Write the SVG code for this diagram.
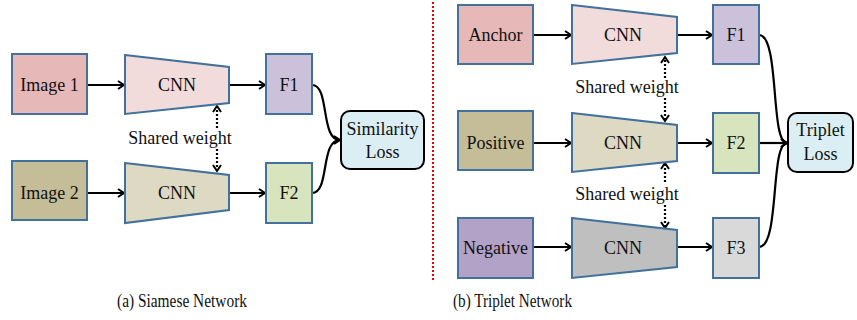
<svg xmlns="http://www.w3.org/2000/svg" width="857" height="320" viewBox="0 0 857 320">
<style>
.box{stroke:#41719C;stroke-width:2}
.t{font-family:"Liberation Serif","Times New Roman",serif;font-size:18px;fill:#111;text-anchor:middle}
.cap{font-family:"Liberation Serif","Times New Roman",serif;font-size:18.5px;fill:#111}
.c{fill:none;stroke:#000;stroke-width:2.2}
.d{fill:none;stroke:#000;stroke-width:2.2;stroke-dasharray:2 2}
</style>
<defs>
<marker id="ah" markerWidth="10" markerHeight="10" refX="8" refY="5" orient="auto" markerUnits="userSpaceOnUse">
<path d="M2,1 L8,5 L2,9" fill="none" stroke="#000" stroke-width="2"/>
</marker>
</defs>
<line x1="433" y1="2" x2="433" y2="282" stroke="#E00" stroke-width="2" stroke-dasharray="2 2"/>
<g id="connectors">
<line class="c" x1="87" y1="85" x2="124" y2="85" marker-end="url(#ah)"/>
<line class="c" x1="229" y1="85" x2="265" y2="85" marker-end="url(#ah)"/>
<line class="c" x1="87" y1="193" x2="124" y2="193" marker-end="url(#ah)"/>
<line class="c" x1="229" y1="193" x2="265" y2="193" marker-end="url(#ah)"/>
<path class="c" d="M312,85 C330,85 320,140 340,140" marker-end="url(#ah)"/>
<path class="c" d="M312,193 C330,193 320,140 340,140"/>
<line class="d" x1="217" y1="128" x2="217" y2="106" marker-end="url(#ah)"/>
<line class="d" x1="217" y1="149" x2="217" y2="171" marker-end="url(#ah)"/>
<line class="c" x1="533" y1="35" x2="571" y2="35" marker-end="url(#ah)"/>
<line class="c" x1="677" y1="35" x2="712" y2="35" marker-end="url(#ah)"/>
<line class="c" x1="533" y1="143" x2="571" y2="143" marker-end="url(#ah)"/>
<line class="c" x1="677" y1="143" x2="712" y2="143" marker-end="url(#ah)"/>
<line class="c" x1="533" y1="247" x2="571" y2="247" marker-end="url(#ah)"/>
<line class="c" x1="677" y1="247" x2="712" y2="247" marker-end="url(#ah)"/>
<path class="c" d="M759,35 C780,35 770,143 787,143" marker-end="url(#ah)"/>
<line class="c" x1="759" y1="143" x2="787" y2="143" marker-end="url(#ah)"/>
<path class="c" d="M759,247 C780,247 770,143 787,143"/>
<line class="d" x1="665" y1="78" x2="665" y2="57" marker-end="url(#ah)"/>
<line class="d" x1="665" y1="98" x2="665" y2="121" marker-end="url(#ah)"/>
<line class="d" x1="665" y1="182" x2="665" y2="163" marker-end="url(#ah)"/>
<line class="d" x1="665" y1="205" x2="665" y2="228" marker-end="url(#ah)"/>
</g>
<g id="image1"><rect class="box" x="12" y="54" width="75" height="60" fill="#E6B9B8"/><text class="t" x="49.5" y="91">Image 1</text></g>
<g id="cnn1"><polygon class="box" points="125,55 229,67 229,103 125,114" fill="#F2DCDB"/><text class="t" x="177" y="91">CNN</text></g>
<g id="f1"><rect class="box" x="266" y="54" width="46" height="60" fill="#CCC1DA"/><text class="t" x="289" y="91">F1</text></g>
<g id="image2"><rect class="box" x="12" y="161" width="75" height="59" fill="#C4BD97"/><text class="t" x="49.5" y="199">Image 2</text></g>
<g id="cnn2"><polygon class="box" points="125,163 229,175 229,210 125,223" fill="#DDD9C3"/><text class="t" x="177" y="199">CNN</text></g>
<g id="f2"><rect class="box" x="266" y="163" width="46" height="60" fill="#D7E4BD"/><text class="t" x="289" y="199">F2</text></g>
<g id="simloss"><rect x="341" y="111" width="83" height="58" rx="9" fill="#DAEEF3" stroke="#000" stroke-width="2"/><text class="t" x="382.5" y="135">Similarity</text><text class="t" x="382.5" y="158">Loss</text></g>
<g id="shared1"><text class="t" x="180" y="144">Shared weight</text></g>
<g id="anchor"><rect class="box" x="458" y="5" width="75" height="59" fill="#E6B9B8"/><text class="t" x="495.5" y="41">Anchor</text></g>
<g id="tcnn1"><polygon class="box" points="572,5 677,17 677,53 572,64" fill="#F2DCDB"/><text class="t" x="623" y="41">CNN</text></g>
<g id="tf1"><rect class="box" x="713" y="5" width="46" height="59" fill="#CCC1DA"/><text class="t" x="736" y="41">F1</text></g>
<g id="shared2"><text class="t" x="627" y="93">Shared weight</text></g>
<g id="positive"><rect class="box" x="458" y="111" width="75" height="59" fill="#C4BD97"/><text class="t" x="495.5" y="149">Positive</text></g>
<g id="tcnn2"><polygon class="box" points="572,113 677,125 677,161 572,172" fill="#DDD9C3"/><text class="t" x="623" y="149">CNN</text></g>
<g id="tf2"><rect class="box" x="713" y="113" width="46" height="60" fill="#D7E4BD"/><text class="t" x="736" y="149">F2</text></g>
<g id="tripletloss"><rect x="788" y="113" width="65" height="59" rx="9" fill="#DAEEF3" stroke="#000" stroke-width="2"/><text class="t" x="820.5" y="136">Triplet</text><text class="t" x="820.5" y="160">Loss</text></g>
<g id="shared3"><text class="t" x="627" y="200">Shared weight</text></g>
<g id="negative"><rect class="box" x="458" y="218" width="75" height="60" fill="#B3A2C7"/><text class="t" x="495.5" y="254">Negative</text></g>
<g id="tcnn3"><polygon class="box" points="572,218 677,230 677,267 572,278" fill="#BFBFBF"/><text class="t" x="623" y="254">CNN</text></g>
<g id="tf3"><rect class="box" x="713" y="218" width="46" height="60" fill="#D9D9D9"/><text class="t" x="736" y="254">F3</text></g>
<text class="cap" x="117" y="307" textLength="130" lengthAdjust="spacingAndGlyphs">(a) Siamese Network</text>
<text class="cap" x="453" y="307" textLength="119" lengthAdjust="spacingAndGlyphs">(b) Triplet Network</text>
</svg>
